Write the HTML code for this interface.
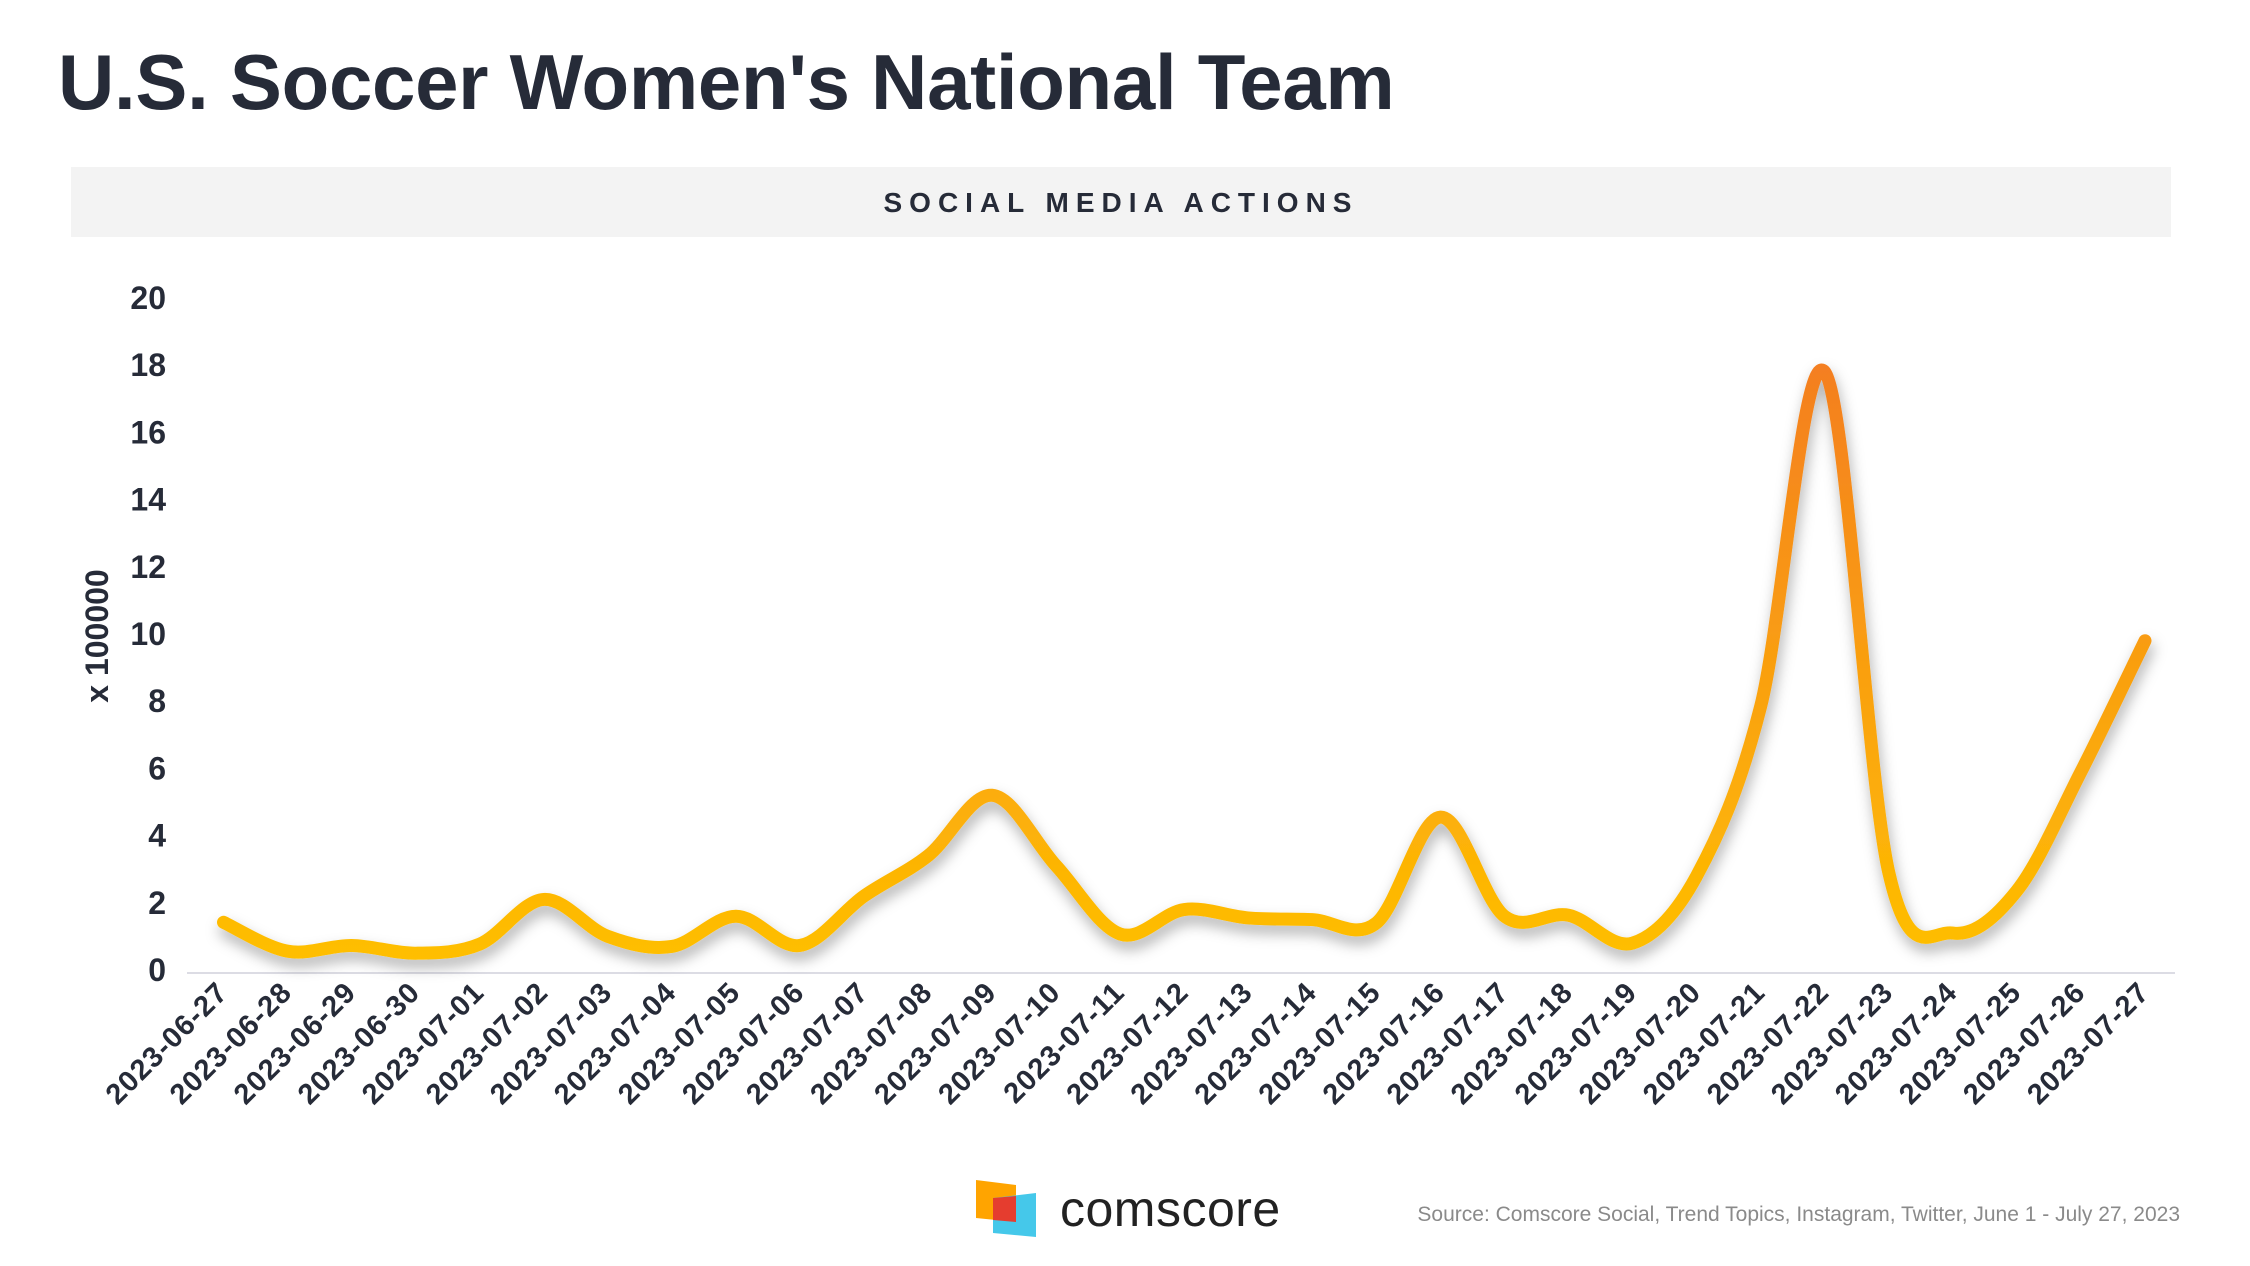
<!DOCTYPE html>
<html><head><meta charset="utf-8">
<style>
html,body{margin:0;padding:0;background:#fff;}
body{width:2250px;height:1266px;position:relative;overflow:hidden;font-family:"Liberation Sans",sans-serif;color:#262b38;}
#title{position:absolute;left:58px;top:37px;font-size:78px;font-weight:bold;letter-spacing:-0.3px;margin:0;}
#band{position:absolute;left:71px;top:167px;width:2100px;height:70px;background:#f3f3f3;}
#band span{position:absolute;left:0;right:0;top:20px;text-align:center;font-size:28px;font-weight:bold;letter-spacing:7px;}
svg{position:absolute;left:0;top:0;}
#source{position:absolute;right:70px;top:1203px;font-size:21px;color:#8a8a8a;}
#brand{position:absolute;left:1060px;top:1180px;font-size:50px;color:#222;letter-spacing:0.5px;}
</style></head><body>
<h1 id="title">U.S. Soccer Women's National Team</h1>
<div id="band"><span>SOCIAL MEDIA ACTIONS</span></div>
<svg id="chart" width="2250" height="1266">
<defs>
<linearGradient id="lg" gradientUnits="userSpaceOnUse" x1="0" y1="970" x2="0" y2="370">
<stop offset="0" stop-color="#ffc000"/><stop offset="1" stop-color="#f47f20"/></linearGradient>
<filter id="sh" x="-10%" y="-10%" width="120%" height="130%"><feDropShadow dx="2" dy="8" stdDeviation="7" flood-color="#000" flood-opacity="0.3"/></filter>
</defs>
</svg>
<div id="logo">
<svg width="2250" height="1266" style="position:absolute;left:0;top:0">
<polygon points="976,1180 1016,1185 1016,1222 976,1218" fill="#ffa400"/>
<polygon points="993,1198 1036,1193 1036,1237 993,1233" fill="#45c8ea"/>
<polygon points="993,1198 1016,1196 1016,1222 993,1220" fill="#e53d2f"/>
</svg>
<div id="brand">comscore</div>
</div>
<div id="source">Source: Comscore Social, Trend Topics, Instagram, Twitter, June 1 - July 27, 2023</div>
<script>
const categories=["2023-06-27","2023-06-28","2023-06-29","2023-06-30","2023-07-01","2023-07-02","2023-07-03","2023-07-04","2023-07-05","2023-07-06","2023-07-07","2023-07-08","2023-07-09","2023-07-10","2023-07-11","2023-07-12","2023-07-13","2023-07-14","2023-07-15","2023-07-16","2023-07-17","2023-07-18","2023-07-19","2023-07-20","2023-07-21","2023-07-22","2023-07-23","2023-07-24","2023-07-25","2023-07-26","2023-07-27"];
const values=[1.42,0.56,0.73,0.5,0.77,2.1,1.0,0.7,1.6,0.73,2.2,3.4,5.2,3.1,1.07,1.8,1.55,1.5,1.4,4.55,1.6,1.63,0.8,2.8,7.85,17.8,2.9,1.1,2.36,5.9,9.8];
const yTicks=[0,2,4,6,8,10,12,14,16,18,20];
const svg=document.getElementById('chart');
const NS='http://www.w3.org/2000/svg';
const X0=223.5,X1=2145,Y0=970,Y20=298;
const xs=i=>X0+(X1-X0)*i/(categories.length-1);
const ys=v=>Y0+(Y20-Y0)*v/20;
function mk(t,a){const e=document.createElementNS(NS,t);for(const k in a)e.setAttribute(k,a[k]);svg.appendChild(e);return e;}
const ax=mk('line',{x1:187,x2:2175,y1:973,y2:973,stroke:'#dcdce4','stroke-width':2});


yTicks.forEach(t=>{const e=mk('text',{x:166,y:ys(t)+11,'text-anchor':'end','font-size':32,'font-weight':'bold',fill:'#262b38','font-family':'Liberation Sans, sans-serif'});e.textContent=t;

});
const yt=mk('text',{x:0,y:0,transform:'translate(108,636) rotate(-90)','text-anchor':'middle','font-size':32,'font-weight':'bold',fill:'#262b38','font-family':'Liberation Sans, sans-serif'});yt.textContent='x 100000';


categories.forEach((c,i)=>{const x=xs(i)+6,y=994;const e=mk('text',{x:x,y:y,transform:`rotate(-45 ${x} ${y})`,'text-anchor':'end','font-size':29,'font-weight':'bold','letter-spacing':1,fill:'#262b38','font-family':'Liberation Sans, sans-serif'});e.textContent=c;

});
const pts=values.map((v,i)=>[xs(i),ys(v)]);
let d=`M${pts[0][0]},${pts[0][1]}`;
for(let i=0;i<pts.length-1;i++){const p0=pts[Math.max(0,i-1)],p1=pts[i],p2=pts[i+1],p3=pts[Math.min(pts.length-1,i+2)];
const t=6;d+=` C${p1[0]+(p2[0]-p0[0])/t},${p1[1]+(p2[1]-p0[1])/t} ${p2[0]-(p3[0]-p1[0])/t},${p2[1]-(p3[1]-p1[1])/t} ${p2[0]},${p2[1]}`;}
const ln=mk('path',{d:d,fill:'none',stroke:'url(#lg)','stroke-width':13,'stroke-linecap':'round','stroke-linejoin':'round',filter:'url(#sh)'});


</script>
</body></html>
